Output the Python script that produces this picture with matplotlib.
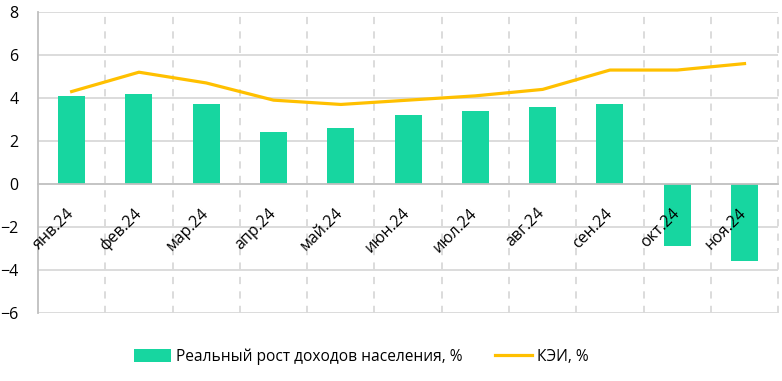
import numpy as np
import matplotlib.pyplot as plt
import matplotlib.transforms as mtransforms

plt.rcParams['font.family'] = ['Open Sans', 'DejaVu Sans']

months = ['янв.24', 'фев.24', 'мар.24', 'апр.24', 'май.24', 'июн.24',
          'июл.24', 'авг.24', 'сен.24', 'окт.24', 'ноя.24']
income = [4.1, 4.2, 3.7, 2.4, 2.6, 3.2, 3.4, 3.6, 3.7, -2.9, -3.6]
kei = [4.3, 5.2, 4.7, 3.9, 3.7, 3.9, 4.1, 4.4, 5.3, 5.3, 5.6]

bar_color = '#17D6A0'
line_color = '#FFC000'
grid_color = '#D9D9D9'

fig = plt.figure(figsize=(7.82, 3.81), dpi=100)
ax = fig.add_axes([0.0486, 0.1785, 0.9465, 0.79])
ax.set_axisbelow(False)

x = np.arange(len(months))
# grid drawn by hand so it sits under the bars, labels stay on top
for yv in range(-6, 9, 2):
    if yv != 0:
        ax.axhline(yv, color=grid_color, lw=1.3, zorder=0)
for xv in np.arange(0.5, len(months) + 0.5, 1):
    ax.axvline(xv, color=grid_color, lw=1.3, ls=(0, (4, 4)), zorder=0, clip_on=False)

bars = ax.bar(x, income, width=0.4, color=bar_color, zorder=1)
line, = ax.plot(x, kei, color=line_color, lw=2.3, zorder=2)

ax.set_xlim(-0.5, len(months) - 0.5)
ax.set_ylim(-6, 8)
ax.set_yticks(range(-6, 9, 2))

for s in ['top', 'right']:
    ax.spines[s].set_visible(False)
ax.spines['left'].set_color('#BFBFBF')
ax.spines['left'].set_linewidth(1.3)
ax.spines['bottom'].set_position(('data', 0))
ax.spines['bottom'].set_color('#BFBFBF')
ax.spines['bottom'].set_linewidth(1.3)

ax.set_xticks(x)
ax.set_xticklabels(months, rotation=45, ha='right', va='top', rotation_mode='anchor', fontsize=11.5)
ax.tick_params(axis='x', length=0, pad=6)
ax.tick_params(axis='y', length=0, pad=14, labelsize=11.5)
shift = mtransforms.ScaledTranslation(-6 / 100, -13 / 100, fig.dpi_scale_trans)
for t in ax.get_xticklabels():
    t.set_transform(t.get_transform() + shift)

fig.legend([bars, line], ['Реальный рост доходов населения, %', 'КЭИ, %'],
           loc='center', bbox_to_anchor=(0.462, 0.063), ncol=2, frameon=False,
           fontsize=11.2, columnspacing=2.1, handlelength=2.4, handleheight=0.9,
           handletextpad=0.3)

fig.savefig('out.png', dpi=100)
